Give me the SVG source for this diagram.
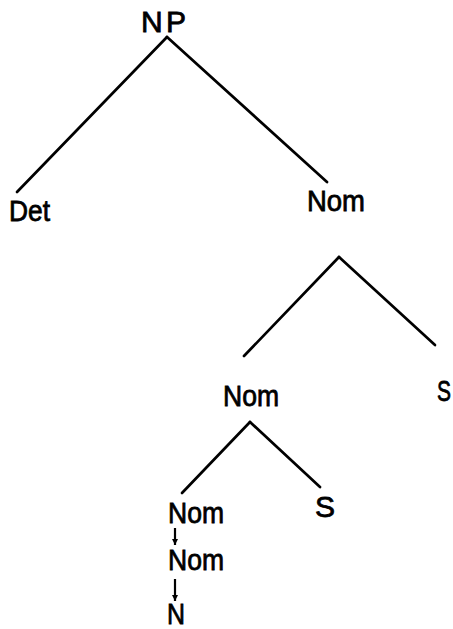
<svg xmlns="http://www.w3.org/2000/svg" width="453" height="629" viewBox="0 0 453 629">
  <style>
    .bg { fill: #ffffff; }
    .lbl { font-family: "Liberation Sans", Arial, sans-serif; font-size: 30px; fill: #000000; stroke: #000000; stroke-width: 0.8; }
    .edge { stroke: #000000; stroke-width: 2.7; stroke-linecap: round; fill: none; }
    .rw { stroke: #000000; stroke-width: 2.2; fill: none; }
  </style>
  <defs>
    <marker id="head" viewBox="0 0 6 6" refX="6" refY="3" markerWidth="6" markerHeight="6" markerUnits="userSpaceOnUse" orient="auto">
      <path d="M0,0 L6,3 L0,6 Z" fill="#000000"/>
    </marker>
  </defs>
  <rect class="bg" x="0" y="0" width="453" height="629"/>

  <!-- tree branches and rewrite arrows -->
  <g id="connectors">
    <line class="edge" x1="167" y1="37" x2="17" y2="192"/>
    <line class="edge" x1="167" y1="37" x2="327" y2="182"/>
    <line class="edge" x1="339" y1="257" x2="244" y2="356"/>
    <line class="edge" x1="339" y1="257" x2="435" y2="345"/>
    <line class="edge" x1="250" y1="422" x2="182" y2="493"/>
    <line class="edge" x1="250" y1="422" x2="320" y2="487"/>
    <line class="rw" x1="175" y1="528" x2="175" y2="545" marker-end="url(#head)"/>
    <line class="rw" x1="175" y1="579" x2="175" y2="601" marker-end="url(#head)"/>
  </g>

  <g id="np"><text class="lbl" x="141" y="32" textLength="45" lengthAdjust="spacing">NP</text></g>
  <g id="det"><text class="lbl" x="9" y="221" textLength="41" lengthAdjust="spacingAndGlyphs">Det</text></g>
  <g id="nom1"><text class="lbl" x="307" y="211" textLength="58" lengthAdjust="spacingAndGlyphs">Nom</text></g>
  <g id="nom2"><text class="lbl" x="223" y="406" textLength="56" lengthAdjust="spacingAndGlyphs">Nom</text></g>
  <g id="s1" transform="translate(437,401) scale(0.7,1)"><text class="lbl" x="0" y="0">S</text></g>
  <g id="nom3"><text class="lbl" x="168" y="523" textLength="56" lengthAdjust="spacingAndGlyphs">Nom</text></g>
  <g id="s2"><text class="lbl" x="315" y="517">S</text></g>
  <g id="nom4"><text class="lbl" x="168" y="570" textLength="56" lengthAdjust="spacingAndGlyphs">Nom</text></g>
  <g id="n"><text class="lbl" x="167" y="624" textLength="18" lengthAdjust="spacingAndGlyphs">N</text></g>
</svg>
